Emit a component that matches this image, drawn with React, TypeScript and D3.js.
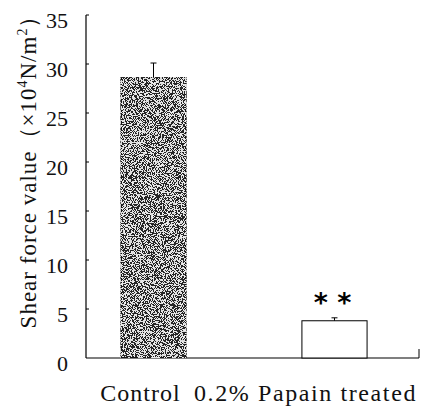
import React from "react";
import * as d3 from "d3";

const categories = ["Control", "0.2% Papain treated"];
const values = [28.6, 3.8];
const errors = [1.5, 0.3];
const yTicks = [0, 5, 10, 15, 20, 25, 30, 35];
const marks = ["", "* *"];

const W = 426;
const H = 408;

const App = () => {
  const y = d3.scaleLinear().domain([0, 35]).range([358, 15]);
  const x = d3
    .scaleBand()
    .domain(categories)
    .range([86, 402])
    .paddingInner(0.64)
    .paddingOuter(0.193);

  const font = "'Liberation Serif', 'Times New Roman', serif";
  const labelDx = [-13, -29];

  return (
    <svg
      width={W}
      height={H}
      style={{ position: "absolute", left: 0, top: 0, background: "#fff" }}
      fontFamily={font}
    >
      <defs>
        <filter id="grain" x="0" y="0" width="100%" height="100%">
          <feTurbulence type="fractalNoise" baseFrequency="1.1" numOctaves="2" seed="7" result="n" />
          <feColorMatrix
            in="n"
            type="matrix"
            values="0 0 0 0 0.85  0 0 0 0 0.85  0 0 0 0 0.85  1 0 0 0 0"
            result="a"
          />
          <feComponentTransfer in="a" result="dots">
            <feFuncA type="discrete" tableValues="0 0 0 0 0 0.85 1 1 1 1" />
          </feComponentTransfer>
          <feComposite in="dots" in2="SourceGraphic" operator="in" result="c" />
          <feMerge>
            <feMergeNode in="SourceGraphic" />
            <feMergeNode in="c" />
          </feMerge>
        </filter>
      </defs>

      {/* y axis */}
      <line x1={86} x2={86} y1={y(35)} y2={y(0)} stroke="#000" strokeWidth={1.2} />
      {yTicks.map((t) => (
        <g key={t}>
          {t > 0 && <line x1={86} x2={89} y1={y(t)} y2={y(t)} stroke="#000" />}
          <text
            x={68}
            y={y(t) + 5}
            dy="0.35em"
            textAnchor="end"
            fontSize={22}
            fill="#111"
          >
            {t}
          </text>
        </g>
      ))}

      {/* x axis */}
      <line x1={86} x2={419} y1={y(0)} y2={y(0)} stroke="#000" strokeWidth={1.2} />
      <line x1={419} x2={419} y1={y(0)} y2={y(0) - 9} stroke="#000" />

      {/* bars */}
      {categories.map((c, i) => {
        const bx = x(c)!;
        const bw = x.bandwidth();
        const cx = bx + bw / 2;
        return (
          <g key={c}>
            <rect
              x={bx}
              y={y(values[i])}
              width={bw}
              height={y(0) - y(values[i])}
              fill={i === 0 ? "#262626" : "#fff"}
              stroke="#000"
              strokeWidth={1}
              filter={i === 0 ? "url(#grain)" : undefined}
            />
            <line
              x1={cx}
              x2={cx}
              y1={y(values[i])}
              y2={y(values[i] + errors[i])}
              stroke="#000"
            />
            <line
              x1={cx - 3}
              x2={cx + 3}
              y1={y(values[i] + errors[i])}
              y2={y(values[i] + errors[i])}
              stroke="#000"
            />
            {marks[i] && (
              <text
                x={cx - 2}
                y={y(values[i] + errors[i]) - 6}
                textAnchor="middle"
                fontSize={27}
                fontWeight="bold"
                fontFamily="'DejaVu Sans', sans-serif"
              >
                {marks[i]}
              </text>
            )}
            <text
              x={cx + labelDx[i]}
              y={401}
              textAnchor="middle"
              fontSize={24}
              letterSpacing={i === 0 ? 1 : 1.6}
              fontFamily={font}
              fill="#111"
            >
              {c}
            </text>
          </g>
        );
      })}

      {/* y title */}
      <text
        transform="translate(36,166) rotate(-90)"
        textAnchor="middle"
        fontSize={23}
        letterSpacing={1}
        fontFamily={font}
        fill="#111"
      >
        Shear force value（×10
        <tspan fontSize={14} dy={-9}>4</tspan>
        <tspan dy={9}>N/m</tspan>
        <tspan fontSize={14} dy={-9}>2</tspan>
        <tspan dy={9}>）</tspan>
      </text>
    </svg>
  );
};

export default App;
